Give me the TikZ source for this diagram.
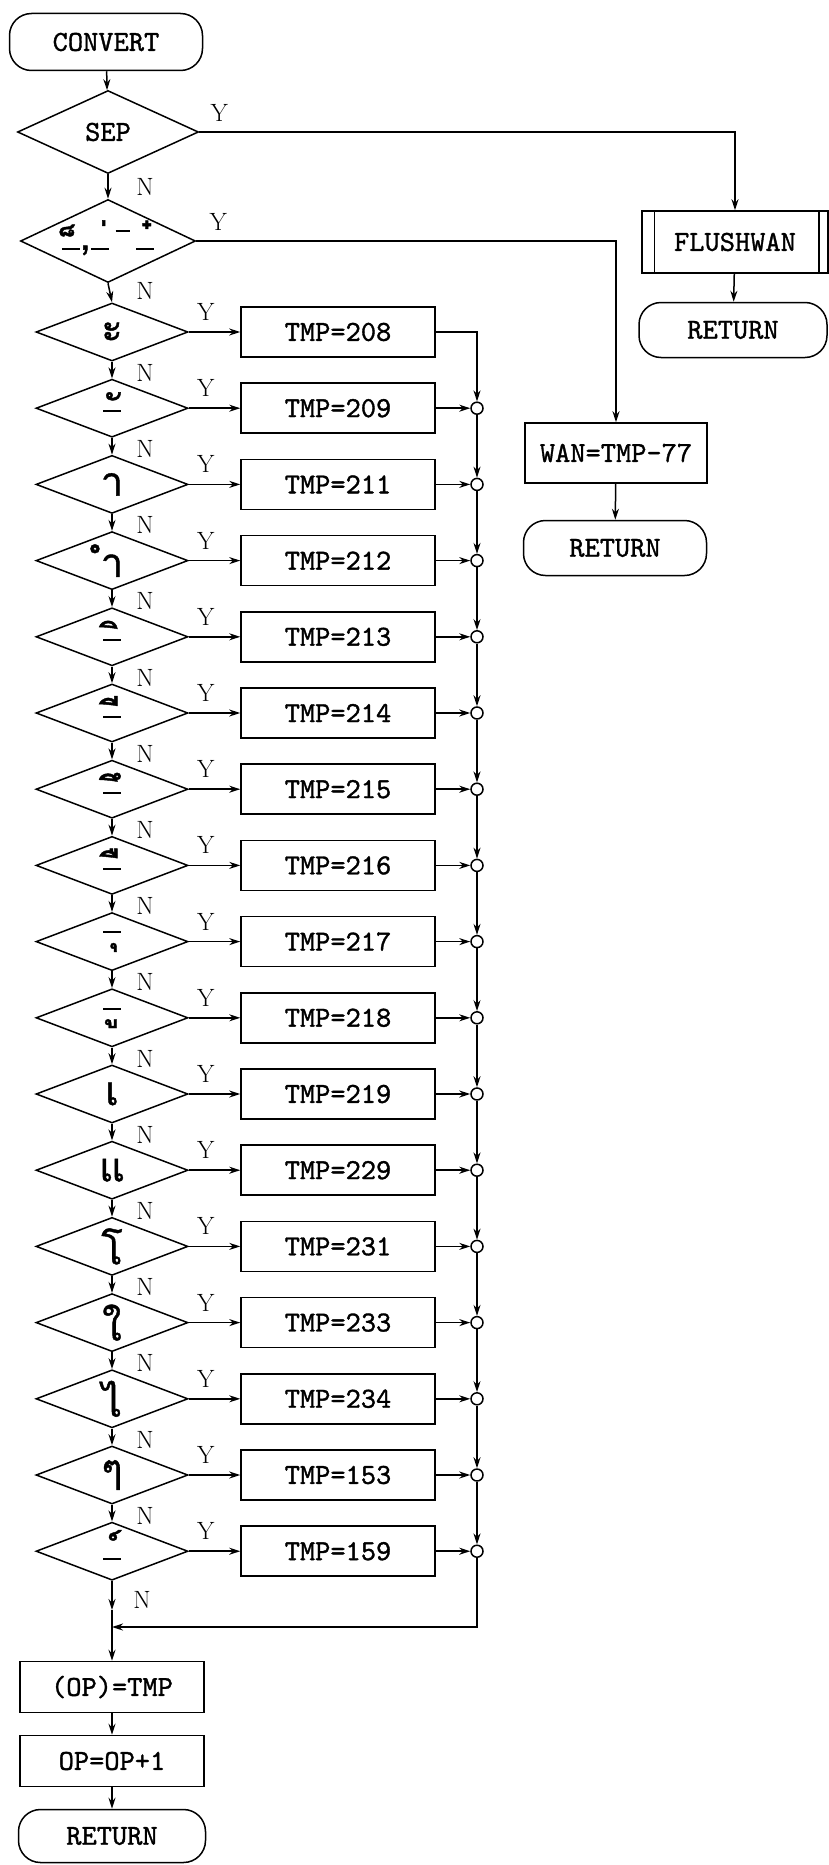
\documentclass[tikz,border=0pt]{standalone}
\usepackage{fontspec}
\newfontfamily\thaifont[Script=Thai,FakeBold=1]{Loma}
\newfontfamily\flowtt{lmmono10-regular.otf}[FakeBold=1.2]
\usetikzlibrary{arrows.meta,shapes.geometric,positioning}

% Thai marks set over / under a base line
\newcommand{\thab}[1]{\rule{0.45em}{0.05em}\raisebox{-0.3em}{#1}}
\newcommand{\thbe}[1]{\rule[0.1em]{0.45em}{0.05em}\kern-0.03em\raisebox{-0.1em}{#1}\kern0.03em}

\tikzset{
    flow/.style={line width=1.5pt},
    arr/.style={flow, -{Stealth[length=11pt,width=7pt]}},
    boxtxt/.style={font=\flowtt\fontsize{29}{32}\selectfont},
    term/.style={draw, flow, boxtxt, rounded corners=22pt, minimum width=190pt, minimum height=55pt},
    proc/.style={draw, flow, boxtxt, minimum width=194pt, minimum height=50pt},
    dec/.style={draw, flow, diamond, inner sep=0pt, minimum width=152pt, minimum height=58pt},
    thlab/.style={font=\thaifont\fontsize{40}{44}\selectfont, inner sep=0pt},
    yn/.style={font=\fontsize{25}{27}\selectfont, inner sep=0pt},
    junc/.style={draw, flow, circle, minimum size=12pt, inner sep=0pt},
}

\begin{document}
\begin{tikzpicture}[x=1pt, y=-1pt]
    \useasboundingbox (0,0) rectangle (829,1865);

    % start and the two first tests
    \node[term, minimum width=193pt, minimum height=57pt] (conv) at (106,42) {CONVERT};
    \node[dec, minimum width=181pt, minimum height=83pt] (sep) at (108,132) {};
    \node[boxtxt] at (sep) {SEP};
    \node[dec, minimum width=175pt, minimum height=83pt] (tone) at (108,241) {};
    \node[thlab] at (tone) {\thab{็},\thab{่}\,\rule[0.45em]{0.35em}{0.05em}\,\thab{๋}};

    \draw[arr] (conv) -- (sep);
    \draw[arr] (sep.south) -- (tone.north);
    \node[yn] at ([shift={(20,-19)}]sep.east) {Y};
    \node[yn] at ([shift={(37,13)}]sep.south) {N};
    \node[yn] at ([shift={(22,-19)}]tone.east) {Y};

    % right hand branches
    \node[proc, minimum width=186pt, minimum height=62pt] (flush) at (735,242) {FLUSHWAN};
    \draw[flow] ([xshift=13pt]flush.north west) -- ([xshift=13pt]flush.south west);
    \draw[flow] ([xshift=-10pt]flush.north east) -- ([xshift=-10pt]flush.south east);
    \node[term, minimum width=188pt] (ret1) at (733,330) {RETURN};
    \node[proc, minimum width=182pt, minimum height=60pt] (wan) at (616,453) {WAN=TMP-77};
    \node[term, minimum width=183pt] (ret2) at (615,548) {RETURN};

    \draw[arr] (sep.east) -| (flush.north);
    \draw[arr] (flush) -- (ret1);
    \draw[arr] (tone.east) -| (wan.north);
    \draw[arr] (wan) -- (ret2);

    % one row for each vowel
    \foreach \lab/\val [count=\k] in {{ะ}/208, {\thab{ั}}/209, {า}/211, {ำ}/212,
        {\thab{ิ}}/213, {\thab{ี}}/214, {\thab{ึ}}/215, {\thab{ื}}/216,
        {\thbe{ุ}}/217, {\thbe{ู}}/218, {เ}/219, {แ}/229, {โ}/231, {ใ}/233,
        {ไ}/234, {ๆ}/153, {\thab{์}}/159} {
        \pgfmathsetmacro{\yy}{332+76.2*(\k-1)}
        \node[dec] (d\k) at (112,\yy) {};
        \node[thlab] at (d\k) {\lab};
        \node[proc] (t\k) at (338,\yy) {TMP=\val};
        \draw[arr] (d\k.east) -- (t\k.west);
        \node[yn] at ([shift={(17,-20)}]d\k.east) {Y};
        \ifnum\k>1
            \node[junc] (c\k) at (477,\yy) {};
            \draw[arr] (t\k.east) -- (c\k.west);
        \fi
    }
    \draw[arr] (tone.south) -- (d1.north);
    \node[yn] at ([shift={(37,8)}]tone.south) {N};
    \foreach \k [evaluate=\k as \n using int(\k+1)] in {1,...,16} {
        \draw[arr] (d\k.south) -- (d\n.north);
        \node[yn] at ([shift={(33,11)}]d\k.south) {N};
    }
    \foreach \k [evaluate=\k as \n using int(\k+1)] in {2,...,16}
        \draw[arr] (c\k.south) -- (c\n.north);
    \draw[arr] (t1.east) -| (c2.north);

    % tail
    \coordinate (nin) at (112,1610);
    \coordinate (join) at (112,1627);
    \node[proc, minimum width=184pt, minimum height=51pt] (opset) at (112,1687) {(OP)=TMP};
    \node[proc, minimum width=184pt, minimum height=51pt] (opinc) at (112,1761) {OP=OP+1};
    \node[term, minimum width=187pt, minimum height=53pt] (ret3) at (112,1836) {RETURN};

    \draw[arr] (d17.south) -- (nin);
    \draw[flow] (nin) -- (join);
    \node[yn] at ([shift={(30,19)}]d17.south) {N};
    \draw[arr] (c17.south) |- (join);
    \draw[arr] (join) -- (opset.north);
    \draw[arr] (opset) -- (opinc);
    \draw[arr] (opinc) -- (ret3);
\end{tikzpicture}
\end{document}
